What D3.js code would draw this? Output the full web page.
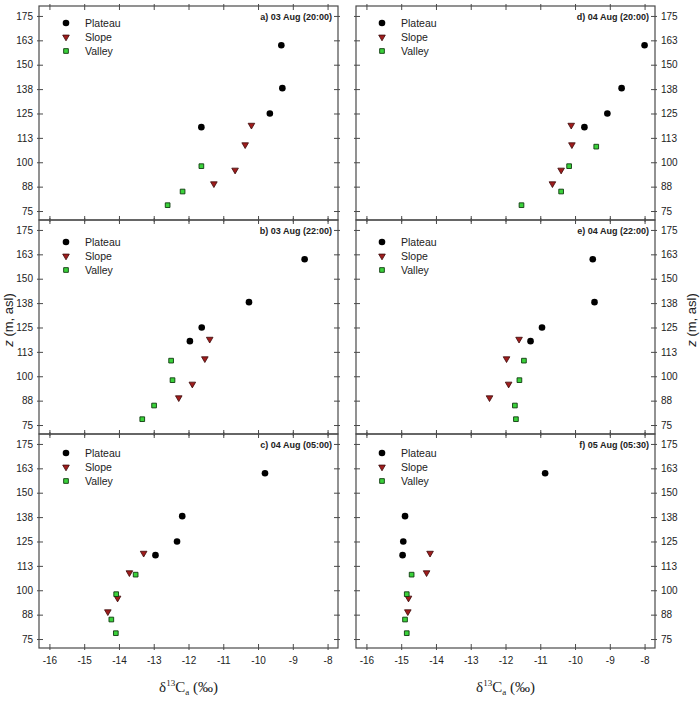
<!DOCTYPE html>
<html>
<head>
<meta charset="utf-8">
<script src="https://cdn.jsdelivr.net/npm/d3@7"></script>
<style>
  body { margin: 0; background: #fff; }
  svg { display: block; font-family: "Liberation Sans", Arial, sans-serif; }
</style>
</head>
<body>
<div class="chart-container"></div>
<script>
// heights of the three profiles (m, asl)
const plateauZ = [160, 138, 125, 118];
const slopeZ = [119, 109, 96, 89];
const valleyZ = [108, 98, 85, 78];

// panel order: a, b, c (left column), d, e, f (right column)
const panelTitles = [
  "a) 03 Aug (20:00)", "b) 03 Aug (22:00)", "c) 04 Aug (05:00)",
  "d) 04 Aug (20:00)", "e) 04 Aug (22:00)", "f) 05 Aug (05:30)"
];

// delta13C values, same order as the heights
const plateauD13C = [
  [-9.33, -9.30, -9.66, -11.63],
  [-8.66, -10.26, -11.62, -11.96],
  [-9.80, -12.18, -12.33, -12.95],
  [-8.00, -8.66, -9.07, -9.73],
  [-9.49, -9.44, -10.95, -11.28],
  [-10.86, -14.89, -14.94, -14.96]
];
const slopeD13C = [
  [-10.19, -10.37, -10.66, -11.27],
  [-11.39, -11.53, -11.89, -12.28],
  [-13.29, -13.70, -14.04, -14.32],
  [-10.11, -10.09, -10.40, -10.65],
  [-11.61, -11.97, -11.91, -12.46],
  [-14.17, -14.27, -14.79, -14.81]
];
const valleyD13C = [
  [null, -11.63, -12.17, -12.60],
  [-12.50, -12.46, -12.99, -13.33],
  [-13.52, -14.08, -14.22, -14.09],
  [-9.39, -10.17, -10.40, -11.54],
  [-11.47, -11.60, -11.73, -11.70],
  [-14.70, -14.84, -14.89, -14.84]
];

const xTicks = [-16, -15, -14, -13, -12, -11, -10, -9, -8];
const yTicks = [75, 87.5, 100, 112.5, 125, 137.5, 150, 162.5, 175];
const yTickLabels = ["75", "88", "100", "113", "125", "138", "150", "163", "175"];
const seriesNames = ["Plateau", "Slope", "Valley"];

function draw(){
    const width = 700;
    const height = 704;
    const colLeft = [39, 356];
    const rowTop = [6, 220, 434];
    const panelW = 299;
    const panelH = 214;
    const legendTop = [17, 22, 19];
    const frameColor = "#4a4a4a";

    const svg = d3.select('.chart-container').append("svg")
        .attr("width", width)
        .attr("height", height);

    const x = d3.scaleLinear().domain([-16.3, -7.7]).range([0, panelW]);
    const y = d3.scaleLinear().domain([70.4, 180.1]).range([panelH, 0]);

    const triangle = d3.symbol().type(d3.symbolTriangle).size(19);
    const square = d3.symbol().type(d3.symbolSquare).size(22);

    function drawMarker(g, kind, cx, cy){
        if (kind === 0) {
            g.append("circle").attr("cx", cx).attr("cy", cy).attr("r", 3.3)
                .attr("fill", "#000");
        } else if (kind === 1) {
            g.append("path").attr("d", triangle())
                .attr("transform", `translate(${cx},${cy}) rotate(180)`)
                .attr("fill", "#a01c1c").attr("stroke", "#3a0a0a").attr("stroke-width", 0.8);
        } else {
            g.append("path").attr("d", square())
                .attr("transform", `translate(${cx},${cy})`)
                .attr("fill", "#3ad23a").attr("stroke", "#103a10").attr("stroke-width", 0.9);
        }
    }

    for (let p = 0; p < 6; p++) {
        const col = Math.floor(p / 3);
        const row = p % 3;
        const g = svg.append("g")
            .attr("transform", `translate(${colLeft[col]},${rowTop[row]})`);

        // axes, ticks inward on all four sides
        const left = g.append("g").call(d3.axisLeft(y).tickValues(yTicks)
            .tickFormat((d, i) => col === 0 ? yTickLabels[i] : "")
            .tickSizeInner(-4).tickSizeOuter(0).tickPadding(6));
        left.selectAll("line").attr("x1", -2);

        const right = g.append("g").attr("transform", `translate(${panelW},0)`)
            .call(d3.axisRight(y).tickValues(yTicks)
            .tickFormat((d, i) => col === 1 ? yTickLabels[i] : "")
            .tickSizeInner(-4).tickSizeOuter(0).tickPadding(6));
        right.selectAll("line").attr("x1", 2);

        const top = g.append("g").call(d3.axisTop(x).tickValues(xTicks)
            .tickFormat("").tickSizeInner(-4).tickSizeOuter(0));
        top.selectAll("line").attr("y1", -2);

        const bottom = g.append("g").attr("transform", `translate(0,${panelH})`)
            .call(d3.axisBottom(x).tickValues(xTicks)
            .tickFormat(d => row === 2 ? String(d) : "")
            .tickSizeInner(-4).tickSizeOuter(0).tickPadding(9));
        bottom.selectAll("line").attr("y1", 2);

        g.selectAll(".domain").remove();
        g.selectAll(".tick line").attr("stroke", frameColor);
        g.selectAll(".tick text").attr("font-size", 10).attr("fill", "#222")
            .attr("font-family", "Liberation Sans, Arial, sans-serif");

        g.append("rect").attr("width", panelW).attr("height", panelH)
            .attr("fill", "none").attr("stroke", frameColor).attr("stroke-width", 1.2);

        // panel title
        g.append("text").attr("x", panelW - 6).attr("y", 14)
            .attr("text-anchor", "end").attr("font-size", 9).attr("font-weight", "bold")
            .attr("fill", "#222").text(panelTitles[p]);

        // legend
        const lx = col === 0 ? 27 : 26;
        seriesNames.forEach((name, i) => {
            const ly = legendTop[row] + i * 14;
            drawMarker(g, i, lx, ly);
            g.append("text").attr("x", lx + 19).attr("y", ly + 4)
                .attr("font-size", 10.5).attr("fill", "#222").text(name);
        });

        // data
        const groups = [[plateauZ, plateauD13C[p]], [slopeZ, slopeD13C[p]], [valleyZ, valleyD13C[p]]];
        groups.forEach(([zs, vs], k) => {
            zs.forEach((z, i) => {
                if (vs[i] == null) return;
                drawMarker(g, k, x(vs[i]), y(z));
            });
        });
    }

    // y axis titles
    [[8, 320], [691, 320]].forEach(([tx, ty]) => {
        const t = svg.append("text")
            .attr("transform", `translate(${tx},${ty}) rotate(-90)`)
            .attr("text-anchor", "middle").attr("dy", "0.35em")
            .attr("font-size", 13).attr("fill", "#222");
        t.append("tspan").attr("font-style", "italic").text("z");
        t.append("tspan").text(" (m, asl)");
    });

    // x axis titles
    [colLeft[0] + panelW / 2, colLeft[1] + panelW / 2].forEach(cx => {
        const t = svg.append("text")
            .attr("x", cx).attr("y", 692)
            .attr("text-anchor", "middle")
            .attr("font-family", "Liberation Serif, Times New Roman, serif")
            .attr("font-size", 15).attr("fill", "#222");
        t.append("tspan").text("δ");
        t.append("tspan").attr("font-size", 9).attr("dy", -6).text("13");
        t.append("tspan").attr("dy", 6).text("C");
        t.append("tspan").attr("font-size", 9).attr("dy", 3).text("a");
        t.append("tspan").attr("dy", -3).text(" (‰)");
    });
}

draw();
</script>
</body>
</html>
